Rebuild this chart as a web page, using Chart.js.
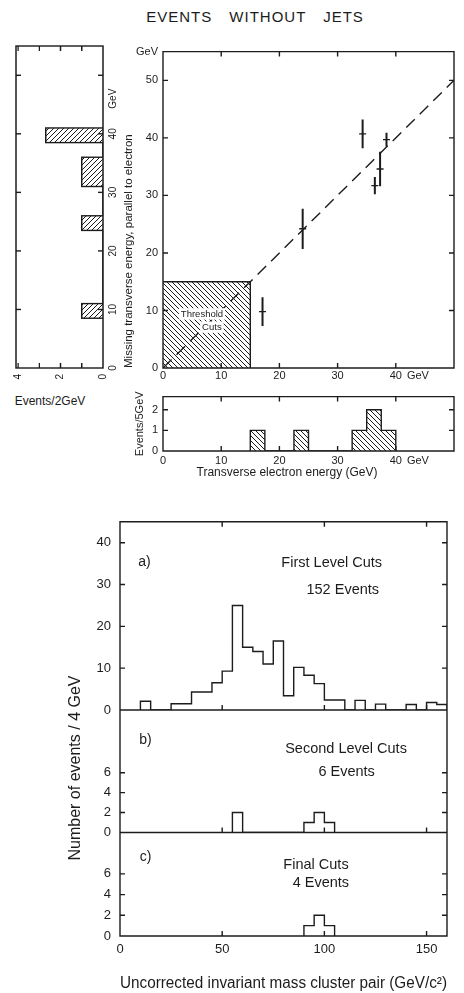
<!DOCTYPE html>
<html>
<head>
<meta charset="utf-8">
<title>Events without jets</title>
<script src="https://cdn.jsdelivr.net/npm/chart.js@4.4.0/dist/chart.umd.min.js"></script>
<style>
  html, body { margin: 0; padding: 0; background: #fff; }
  body { width: 464px; height: 993px; position: relative; overflow: hidden;
         font-family: 'Liberation Sans', Arial, sans-serif; color: #1c1c1c; }
  canvas, .lbl { position: absolute; }
  #titulo { left: 0; width: 510px; top: 8px; text-align: center; font-size: 15px;
            line-height: 18px; letter-spacing: 1px; word-spacing: 12px; }
  #ev2 { left: 0; width: 100px; top: 394px; text-align: center; font-size: 12px; }
  #cv-miss { left: -120px; top: 147px; transform: rotate(-90deg); }
  #cv-scatter { left: 100px; top: 40px; }
  #cv-ele { left: 100px; top: 385px; }
  #cv-mass { left: 60px; top: 505px; }
</style>
</head>
<body>
<div id="titulo" class="lbl">EVENTS WITHOUT JETS</div>
<canvas id="cv-miss" width="360" height="120"></canvas>
<canvas id="cv-scatter" width="364" height="345"></canvas>
<div id="ev2" class="lbl">Events/2GeV</div>
<canvas id="cv-ele" width="364" height="100"></canvas>
<canvas id="cv-mass" width="404" height="488"></canvas>

<script>
const INK  = '#1c1c1c';
const FONT = "'Liberation Sans', Arial, sans-serif";

// ── Sucesos: E_T perdida vs E_T del electrón ───────────────────
const ptEle    = [17.1, 24.0, 34.3, 36.4, 37.3, 38.4];   // GeV
const ptMiss   = [9.8, 24.2, 40.7, 31.7, 34.6, 39.7];    // GeV
const ptErrY   = [2.5, 3.5, 2.5, 1.5, 3.0, 1.2];
const ptErrX   = [0.6, 0.6, 0.6, 0.6, 0.6, 0.6];
const umbral   = 15;        // cortes de umbral (GeV)
const diagonal = [0, 50];   // E_T perdida = E_T electrón

const scTicksX = [0, 10, 20, 30, 40, 43.8];
const scLblX   = ['0', '10', '20', '30', '40', 'GeV'];
const scTicksY = [0, 10, 20, 30, 40, 50, 55];
const scLblY   = ['0', '10', '20', '30', '40', '50', 'GeV'];

// ── Proyección: E_T perdida (Events/2GeV) ─────────────────────
const missBordes = [8.5, 11, 23.5, 26, 31, 36, 38.5, 41];
const missCuenta = [1, 0, 1, 0, 1, 0, 2.7];
const missTicks  = [0, 10, 20, 30, 40, 46, 50];
const missLbl    = ['0', '10', '20', '30', '40', 'GeV', ''];
const cntTicks   = [0, 1, 2, 3, 4];
const cntLbl     = ['0', '', '2', '', '4'];

// ── Proyección: E_T del electrón (Events/5GeV) ────────────────
const eleBordes = [15, 17.5, 22.5, 25, 32.5, 35, 37.5, 40];
const eleCuenta = [1, 0, 1, 0, 1, 2, 1];
const eleTicksY = [0, 1, 2];
const eleLblY   = ['0', '1', '2'];

// ── Masa invariante de pares de clusters ──────────────────────
const masaBordesA = [10, 15, 25, 30, 35, 40, 45, 50, 55, 60, 65, 70, 75, 80, 85, 90, 95,
                     100, 105, 110, 115, 120, 125, 130, 140, 145, 150, 155, 160];
const masaCuentaA = [2.1, 0, 1.5, 1.5, 4.3, 4.3, 6.5, 9.3, 25, 15, 14, 11, 16.5, 3.4, 10.2,
                     8.3, 6.3, 2.4, 2.4, 0, 2.3, 0, 1.4, 0, 1.3, 0, 1.8, 1.3];
const masaBordesB = [55, 60, 90, 95, 100, 105];
const masaCuentaB = [2, 0, 1, 2, 1];
const masaBordesC = [90, 95, 100, 105];
const masaCuentaC = [1, 2, 1];
const masaTicks   = [0, 50, 100, 150];
const ticksA = [0, 10, 20, 30, 40];
const ticksB = [0, 2, 4, 6];
const ticksC = [0, 2, 4, 6];

// ── Utilidades ────────────────────────────────────────────────
Chart.defaults.font.family = FONT;
Chart.defaults.color = INK;

// contorno escalonado de un histograma: bordes + contenido por bin
function contorno(bordes, cuentas) {
    const pts = [{ x: bordes[0], y: 0 }];
    cuentas.forEach((c, i) => pts.push({ x: bordes[i], y: c }));
    pts.push({ x: bordes[bordes.length - 1], y: 0 });
    return pts;
}

// trama rayada "\\\\"
function rayado(paso) {
    const tile = document.createElement('canvas');
    tile.width = tile.height = paso;
    const g = tile.getContext('2d');
    g.strokeStyle = INK;
    g.lineWidth = 1;
    g.beginPath();
    g.moveTo(0, 0);      g.lineTo(paso, paso);
    g.moveTo(-paso, 0);  g.lineTo(paso, paso * 2);
    g.moveTo(0, -paso);  g.lineTo(paso * 2, paso);
    g.stroke();
    return g.createPattern(tile, 'repeat');
}

function eje(min, max, valores, etiquetas, tam, cfg = {}) {
    return {
        type: 'linear', min, max,
        position: cfg.position,
        stack: cfg.stack, stackWeight: cfg.stackWeight, weight: cfg.weight,
        grid: { display: false, drawTicks: false },
        border: { display: false },
        title: cfg.title || { display: false },
        afterBuildTicks: s => { s.ticks = valores.map(v => ({ value: v })); },
        afterFit: s => { if (s.isHorizontal()) s.height = tam; else s.width = tam; },
        ticks: {
            autoSkip: false, maxRotation: 0, minRotation: 0,
            padding: cfg.pad ?? 3,
            font: { size: cfg.font ?? 11 },
            callback: (v, i) => etiquetas[i]
        }
    };
}

function histo(bordes, cuentas, extra = {}) {
    return Object.assign({
        data: contorno(bordes, cuentas),
        showLine: true, stepped: 'before',
        borderColor: INK, borderWidth: 1.4,
        pointRadius: 0, fill: false
    }, extra);
}

// marco con marcas hacia dentro (una caja por eje y apilado)
const marco = {
    id: 'marco',
    afterDatasetsDraw(chart, args, opts) {
        const { ctx, chartArea: a, scales } = chart;
        const xs = scales.x;
        const largo = opts.largo ?? 5;
        const sin = opts.sinMarca ?? [];
        ctx.save();
        ctx.strokeStyle = INK;
        ctx.lineWidth = opts.grosor ?? 1.4;
        ctx.beginPath();
        Object.values(scales).filter(s => s.axis === 'y').forEach(ys => {
            ctx.rect(a.left, ys.top, a.right - a.left, ys.bottom - ys.top);
            ys.ticks.forEach(t => {
                if (sin.includes(t.label)) return;
                const y = ys.getPixelForValue(t.value);
                ctx.moveTo(a.left, y);  ctx.lineTo(a.left + largo, y);
                ctx.moveTo(a.right, y); ctx.lineTo(a.right - largo, y);
            });
            xs.ticks.forEach(t => {
                if (sin.includes(t.label)) return;
                const x = xs.getPixelForValue(t.value);
                ctx.moveTo(x, ys.bottom); ctx.lineTo(x, ys.bottom - largo);
                if (ys.top <= a.top + 1) { ctx.moveTo(x, ys.top); ctx.lineTo(x, ys.top + largo); }
            });
        });
        ctx.stroke();
        ctx.restore();
    }
};

// textos sueltos, en coordenadas de datos o en píxeles del canvas
const notas = {
    id: 'notas',
    afterDatasetsDraw(chart, args, opts) {
        const { ctx } = chart;
        (opts.items || []).forEach(n => {
            const xs = chart.scales[n.ejeX || 'x'];
            const ys = chart.scales[n.ejeY || 'y'];
            const px = n.px ?? xs.getPixelForValue(n.x);
            const py = n.py ?? ys.getPixelForValue(n.y);
            const tam = n.tam || 14;
            ctx.save();
            ctx.translate(px, py);
            if (n.rot) ctx.rotate(n.rot);
            ctx.font = `${tam}px ${FONT}`;
            ctx.textAlign = n.align || 'center';
            ctx.textBaseline = 'middle';
            if (n.fondo) {
                const w = ctx.measureText(n.text).width;
                ctx.fillStyle = '#fff';
                ctx.fillRect(-w / 2 - 2, -tam * 0.6, w + 4, tam * 1.2);
            }
            ctx.fillStyle = INK;
            ctx.fillText(n.text, 0, 0);
            ctx.restore();
        });
    }
};

const base = {
    responsive: false,
    animation: false,
    devicePixelRatio: 1,
    events: []
};

// ── Histograma lateral (se dibuja en vertical y se gira) ──────
new Chart(document.getElementById('cv-miss'), {
    type: 'scatter',
    data: { datasets: [
        histo(missBordes, missCuenta, { fill: 'origin', backgroundColor: rayado(5) })
    ] },
    options: {
        ...base,
        layout: { padding: { top: 16, right: 19, left: 0, bottom: 0 } },
        scales: {
            x: eje(0, 55, missTicks, missLbl, 17, { font: 10, pad: 4 }),
            y: eje(0, 4.1, cntTicks, cntLbl, 19, { font: 10, pad: 6 })
        },
        plugins: { legend: { display: false }, tooltip: { enabled: false },
                   marco: { sinMarca: ['GeV'] } }
    },
    plugins: [marco]
});

// ── Dispersión con barras de error ────────────────────────────
const barrasError = [];
ptEle.forEach((x, i) => {
    const y = ptMiss[i];
    barrasError.push({ data: [{ x, y: y - ptErrY[i] }, { x, y: y + ptErrY[i] }], borderWidth: 2 });
    barrasError.push({ data: [{ x: x - ptErrX[i], y }, { x: x + ptErrX[i], y }], borderWidth: 1.4 });
});

new Chart(document.getElementById('cv-scatter'), {
    type: 'scatter',
    data: { datasets: [
        ...barrasError.map(b => ({ ...b, showLine: true, borderColor: INK, pointRadius: 0 })),
        { data: diagonal.map(v => ({ x: v, y: v })), showLine: true, borderColor: INK,
          borderWidth: 1.4, borderDash: [12, 7], pointRadius: 0 },
        { data: [{ x: 0, y: umbral }, { x: umbral, y: umbral }, { x: umbral, y: 0 }],
          showLine: true, borderColor: INK, borderWidth: 1.4, pointRadius: 0,
          fill: 'origin', backgroundColor: rayado(5) }
    ] },
    options: {
        ...base,
        layout: { padding: { top: 7, right: 10, left: 0, bottom: 0 } },
        scales: {
            x: eje(0, 50, scTicksX, scLblX, 17, { pad: 1 }),
            y: eje(0, 55, scTicksY, scLblY, 63, { pad: 5, title: {
                display: true, text: 'Missing transverse energy, parallel to electron',
                align: 'start', font: { size: 11.5 }, padding: { top: 22, bottom: 0 } } })
        },
        plugins: {
            legend: { display: false }, tooltip: { enabled: false },
            marco: { sinMarca: ['GeV'] },
            notas: { items: [
                { text: 'Threshold', x: 6.7, y: 9.4, tam: 9.5, fondo: true },
                { text: 'Cuts', x: 8.4, y: 7.1, tam: 9.5, fondo: true }
            ] }
        }
    },
    plugins: [marco, notas]
});

// ── Histograma de E_T del electrón ────────────────────────────
new Chart(document.getElementById('cv-ele'), {
    type: 'scatter',
    data: { datasets: [
        histo(eleBordes, eleCuenta, { fill: 'origin', backgroundColor: rayado(5) })
    ] },
    options: {
        ...base,
        layout: { padding: { top: 8, right: 10, left: 0, bottom: 0 } },
        scales: {
            x: eje(0, 50, scTicksX, scLblX, 34, { pad: 3 }),
            y: eje(0, 2.64, eleTicksY, eleLblY, 63, { pad: 5, title: {
                display: true, text: 'Events/5GeV', font: { size: 11 },
                padding: { top: 33, bottom: 0 } } })
        },
        plugins: {
            legend: { display: false }, tooltip: { enabled: false },
            marco: { sinMarca: ['GeV'] },
            notas: { items: [
                { text: 'Transverse electron energy (GeV)', px: 187, py: 88, tam: 12 }
            ] }
        }
    },
    plugins: [marco, notas]
});

// ── Masa invariante: tres niveles de cortes ───────────────────
new Chart(document.getElementById('cv-mass'), {
    type: 'scatter',
    data: { datasets: [
        histo(masaBordesA, masaCuentaA, { yAxisID: 'ya' }),
        histo(masaBordesB, masaCuentaB, { yAxisID: 'yb' }),
        histo(masaBordesC, masaCuentaC, { yAxisID: 'yc' })
    ] },
    options: {
        ...base,
        layout: { padding: { top: 15, right: 17, left: 0, bottom: 0 } },
        scales: {
            x: eje(0, 160, masaTicks, masaTicks.map(String), 57, { font: 13, pad: 6, title: {
                display: true, text: 'Uncorrected invariant mass cluster pair (GeV/c²)',
                font: { size: 16 }, padding: { top: 0, bottom: 0 } } }),
            ya: eje(0, 45, ticksA, ticksA.map(String), 60,
                    { font: 13, pad: 9, position: 'left', stack: 'm', stackWeight: 189, weight: 3 }),
            yb: eje(0, 12.3, ticksB, ticksB.map(String), 60,
                    { font: 13, pad: 9, position: 'left', stack: 'm', stackWeight: 123, weight: 2 }),
            yc: eje(0, 10, ticksC, ticksC.map(String), 60,
                    { font: 13, pad: 9, position: 'left', stack: 'm', stackWeight: 104, weight: 1 })
        },
        plugins: {
            legend: { display: false }, tooltip: { enabled: false },
            marco: {},
            notas: { items: [
                { text: 'a)', x: 12, y: 35.4, ejeY: 'ya', tam: 14 },
                { text: 'First Level Cuts', x: 103.6, y: 35.2, ejeY: 'ya', tam: 14.5 },
                { text: '152 Events', x: 109, y: 28.7, ejeY: 'ya', tam: 14.5 },
                { text: 'b)', x: 12.5, y: 9.3, ejeY: 'yb', tam: 14 },
                { text: 'Second Level Cuts', x: 110.6, y: 8.4, ejeY: 'yb', tam: 14.5 },
                { text: '6 Events', x: 110.9, y: 6.1, ejeY: 'yb', tam: 14.5 },
                { text: 'c)', x: 12.5, y: 7.6, ejeY: 'yc', tam: 14 },
                { text: 'Final Cuts', x: 95.9, y: 6.9, ejeY: 'yc', tam: 14.5 },
                { text: '4 Events', x: 98.3, y: 5.1, ejeY: 'yc', tam: 14.5 },
                { text: 'Number of events / 4 GeV', px: 16, py: 263, rot: -Math.PI / 2, tam: 16 }
            ] }
        }
    },
    plugins: [marco, notas]
});
</script>
</body>
</html>
